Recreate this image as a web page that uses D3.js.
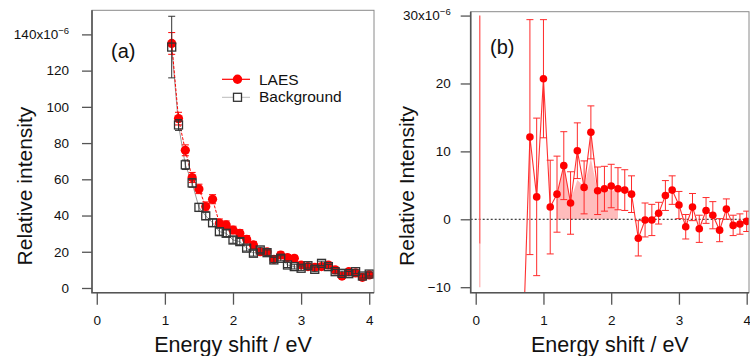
<!DOCTYPE html>
<html>
<head>
<meta charset="utf-8">
<script src="https://cdn.jsdelivr.net/npm/d3@7"></script>
<style>
  body { margin: 0; background: #fff; }
  svg { display: block; font-family: "Liberation Sans", Arial, sans-serif; }
</style>
</head>
<body>
<div id="chart"></div>
<script>
// panel (a): LAES and background spectra
const energyA = [1.1, 1.2, 1.3, 1.4, 1.5, 1.6, 1.7, 1.8, 1.9, 2.0, 2.1, 2.2, 2.3, 2.4, 2.5,
                 2.6, 2.7, 2.8, 2.9, 3.0, 3.1, 3.2, 3.3, 3.4, 3.5, 3.6, 3.7, 3.8, 3.9, 4.0];
const laesA = [135, 93.5, 76, 61, 54.7, 45, 49, 35.8, 34.8, 32, 30.2, 26.9, 23.8, 20, 20,
               15.8, 18.2, 16.8, 16.4, 12.7, 11.8, 11.4, 11.8, 12.7, 10, 6.6, 9, 8.3, 5.9, 7.2];
const laesErrA = [6, 3.5, 3, 2.8, 2.6, 2.5, 2.5, 2.3, 2.2, 2.1, 2, 2, 1.9, 1.8, 1.8,
                  1.7, 1.7, 1.6, 1.6, 1.5, 1.5, 1.5, 1.4, 1.4, 1.4, 1.3, 1.3, 1.3, 1.3, 1.3];
const bgA = [133, 90, 68, 58, 44.5, 39.8, 36, 31.1, 30.2, 26.5, 25.6, 22, 19.2, 21, 19.5,
             15.5, 16.4, 12.7, 11.8, 10.9, 12.3, 10.3, 13.6, 11.8, 9, 8.1, 7.9, 9, 6.6, 7.7];
const bgErrA = [17, 3, 2.6, 2.4, 2.2, 2, 2, 1.9, 1.8, 1.8, 1.7, 1.6, 1.6, 1.5, 1.5,
                1.4, 1.4, 1.4, 1.3, 1.3, 1.3, 1.3, 1.2, 1.2, 1.2, 1.2, 1.2, 1.1, 1.1, 1.1];
const yTicksA = [0, 20, 40, 60, 80, 100, 120, 140];

// panel (b): difference spectrum
const energyB = [0.7, 0.8, 0.9, 1.0, 1.1, 1.2, 1.3, 1.4, 1.5, 1.6, 1.7, 1.8, 1.9, 2.0, 2.1, 2.2, 2.3,
                 2.4, 2.5, 2.6, 2.7, 2.8, 2.9, 3.0, 3.1, 3.2, 3.3, 3.4, 3.5, 3.6, 3.7, 3.8, 3.9, 4.0];
const diffB = [-18, 12.1, 3.3, 20.7, 1.8, 3.7, 7.9, 2.4, 10.1, 4.7, 12.8, 4.2, 4.5, 4.9, 4.5, 4.3, 3.7,
               -2.8, -0.1, -0.1, 0.9, 3.5, 4.3, 2.1, -1.1, 1.8, -1.4, 1.3, 0.6, -1.6, 1.5, -0.9, -0.7, -0.3];
const diffErrB = [0, 17.3, 11.6, 8.7, 6.9, 5.6, 5.0, 4.6, 4.1, 3.9, 3.9, 3.5, 3.3, 3.2, 3.1, 3.0, 2.7,
                  2.6, 2.5, 2.3, 1.6, 2.2, 2.1, 2.0, 1.8, 2.0, 2.0, 1.9, 2.0, 1.7, 1.5, 1.5, 1.5, 1.5];
// shaded region under the signal
const fillEnergyB = [1.2, 1.3, 1.4, 1.5, 1.6, 1.7, 1.8, 1.9, 2.0, 2.1];
const fillTopB = [3.8, 7.8, 2.8, 5.8, 4.8, 9.0, 4.1, 4.2, 4.3, 4.1];
// lone spike near zero shift
const spikeB = { energy: 0.06, top: 30, mid: -3.6, bottom: -10 };
const yTicksB = [-10, 0, 10, 20, 30];
const xTicks = [0, 1, 2, 3, 4];

const RED = '#ff0000';
const svg = d3.select('#chart').append('svg').attr('width', 750).attr('height', 356);

function makePanel(box, xDomain, yDomain, id) {
  const x = d3.scaleLinear().domain(xDomain).range([box.left, box.right]);
  const y = d3.scaleLinear().domain(yDomain).range([box.bottom, box.top]);
  svg.append('clipPath').attr('id', id).append('rect')
    .attr('x', box.left).attr('y', box.top)
    .attr('width', box.right - box.left).attr('height', box.bottom - box.top);
  const g = svg.append('g');
  const plot = g.append('g').attr('clip-path', `url(#${id})`);
  return { x, y, g, plot, box };
}

function errorBars(p, xs, ys, es, color, cap) {
  const data = xs.map((d, i) => ({ x: d, v: ys[i], e: es[i] })).filter(d => d.e > 0);
  const eg = p.plot.append('g').attr('stroke', color).attr('stroke-width', 1);
  eg.selectAll('.bar').data(data).enter().append('line')
    .attr('x1', d => p.x(d.x)).attr('x2', d => p.x(d.x))
    .attr('y1', d => p.y(d.v - d.e)).attr('y2', d => p.y(d.v + d.e));
  [-1, 1].forEach(s => {
    eg.selectAll('.cap' + s).data(data).enter().append('line')
      .attr('x1', d => p.x(d.x) - cap).attr('x2', d => p.x(d.x) + cap)
      .attr('y1', d => p.y(d.v + s * d.e)).attr('y2', d => p.y(d.v + s * d.e));
  });
}

function drawAxes(p, yTicks, yPad, topLabel, xLabel, yLabel, yTitleX, tag, tagPos) {
  const { box } = p;
  // frame
  p.g.append('rect').attr('x', box.left).attr('y', box.top)
    .attr('width', box.right - box.left).attr('height', box.bottom - box.top)
    .attr('fill', 'none').attr('stroke', '#8a8a8a').attr('stroke-width', 1);
  p.g.append('path')
    .attr('d', `M${box.left},${box.top}V${box.bottom}H${box.right}`)
    .attr('fill', 'none').attr('stroke', '#555').attr('stroke-width', 1.6);

  const yAxis = p.g.append('g').attr('transform', `translate(${box.left},0)`)
    .call(d3.axisLeft(p.y).tickValues(yTicks).tickSize(10).tickPadding(yPad));
  yAxis.select('.domain').remove();
  yAxis.selectAll('line').attr('stroke', '#555').attr('stroke-width', 1.3);
  yAxis.selectAll('text').attr('font-size', 13.5).attr('fill', '#111')
    .attr('font-family', '"Liberation Sans", Arial, sans-serif');
  const top = yAxis.selectAll('.tick').filter(d => d === yTicks[yTicks.length - 1]).select('text');
  top.text(topLabel);
  top.append('tspan').attr('dy', '-0.55em').attr('font-size', 9.5).text('\u22126');

  const xAxis = p.g.append('g').attr('transform', `translate(0,${box.bottom})`)
    .call(d3.axisBottom(p.x).tickValues(xTicks).tickFormat(d3.format('d')).tickSize(12).tickPadding(11));
  xAxis.select('.domain').remove();
  xAxis.selectAll('line').attr('stroke', '#555').attr('stroke-width', 1.3);
  xAxis.selectAll('text').attr('font-size', 13.5).attr('fill', '#111')
    .attr('font-family', '"Liberation Sans", Arial, sans-serif');

  p.g.append('text').attr('x', (box.left + box.right) / 2).attr('y', 352)
    .attr('text-anchor', 'middle').attr('font-size', 21.5).attr('fill', '#111').text(xLabel);
  p.g.append('text').attr('transform', `translate(${yTitleX},186) rotate(-90)`)
    .attr('text-anchor', 'middle').attr('font-size', 21).attr('fill', '#111').text(yLabel);
  p.g.append('text').attr('x', tagPos[0]).attr('y', tagPos[1])
    .attr('font-size', 20).attr('fill', '#111').text(tag);
}

// ---------- panel (a)
const pa = makePanel({ left: 92, right: 374, top: 10.3, bottom: 292.7 }, [-0.07, 4.07], [-2.6, 153.3], 'clipA');

const lineA = d3.line().x((d, i) => pa.x(energyA[i])).y(d => pa.y(d));
pa.plot.append('path').datum(bgA).attr('d', lineA)
  .attr('fill', 'none').attr('stroke', '#9a9a9a').attr('stroke-width', 1);
pa.plot.append('path').datum(laesA).attr('d', lineA)
  .attr('fill', 'none').attr('stroke', RED).attr('stroke-width', 1).attr('stroke-dasharray', '3,1.5');
errorBars(pa, energyA, laesA, laesErrA, RED, 3.5);
pa.plot.selectAll('.laes').data(laesA).enter().append('circle')
  .attr('cx', (d, i) => pa.x(energyA[i])).attr('cy', d => pa.y(d))
  .attr('r', 4.6).attr('fill', RED);
errorBars(pa, energyA, bgA, bgErrA, '#333', 3.5);
pa.plot.selectAll('.bg').data(bgA).enter().append('rect')
  .attr('x', (d, i) => pa.x(energyA[i]) - 4).attr('y', d => pa.y(d) - 4)
  .attr('width', 8).attr('height', 8)
  .attr('fill', 'none').attr('stroke', '#333').attr('stroke-width', 1.3);

drawAxes(pa, yTicksA, 13, '140x10', 'Energy shift / eV', 'Relative intensity', 32, '(a)', [111, 57.5]);

// legend
const legend = pa.g.append('g').attr('font-size', 15.5).attr('fill', '#111');
legend.append('line').attr('x1', 222).attr('x2', 250).attr('y1', 79.3).attr('y2', 79.3)
  .attr('stroke', RED).attr('stroke-width', 1.2);
legend.append('circle').attr('cx', 237.5).attr('cy', 79.3).attr('r', 4.7).attr('fill', RED);
legend.append('text').attr('x', 259).attr('y', 84.5).text('LAES');
legend.append('line').attr('x1', 222).attr('x2', 250).attr('y1', 97.3).attr('y2', 97.3)
  .attr('stroke', '#bbb').attr('stroke-width', 1);
legend.append('rect').attr('x', 233.5).attr('y', 93.3).attr('width', 8).attr('height', 8)
  .attr('fill', '#fff').attr('stroke', '#333').attr('stroke-width', 1.3);
legend.append('text').attr('x', 259).attr('y', 102).text('Background');

// ---------- panel (b)
const pb = makePanel({ left: 470.7, right: 749, top: 11.7, bottom: 292.7 }, [-0.074, 4.034], [-10.81, 30.57], 'clipB');

pb.plot.append('path').datum(fillTopB)
  .attr('d', d3.area().x((d, i) => pb.x(fillEnergyB[i])).y0(pb.y(0)).y1(d => pb.y(d)))
  .attr('fill', '#ffbcbc');
pb.plot.append('line').attr('x1', pb.box.left).attr('x2', pb.box.right)
  .attr('y1', pb.y(0)).attr('y2', pb.y(0))
  .attr('stroke', '#111').attr('stroke-width', 1).attr('stroke-dasharray', '2,2');

pb.plot.append('line').attr('x1', pb.x(spikeB.energy)).attr('x2', pb.x(spikeB.energy))
  .attr('y1', pb.y(spikeB.top)).attr('y2', pb.y(spikeB.mid))
  .attr('stroke', '#ff5a5a').attr('stroke-width', 1.3);
pb.plot.append('line').attr('x1', pb.x(spikeB.energy)).attr('x2', pb.x(spikeB.energy))
  .attr('y1', pb.y(spikeB.mid)).attr('y2', pb.y(spikeB.bottom))
  .attr('stroke', '#ffb4b4').attr('stroke-width', 1.3);

const lineB = d3.line().x((d, i) => pb.x(energyB[i])).y(d => pb.y(d));
pb.plot.append('path').datum(diffB).attr('d', lineB)
  .attr('fill', 'none').attr('stroke', '#ff3030').attr('stroke-width', 1.1);
errorBars(pb, energyB, diffB, diffErrB, '#ff2a2a', 3.5);
pb.plot.selectAll('.diff').data(diffB).enter().append('circle')
  .attr('cx', (d, i) => pb.x(energyB[i])).attr('cy', d => pb.y(d))
  .attr('r', 3.8).attr('fill', RED);

drawAxes(pb, yTicksB, 10, '30x10', 'Energy shift / eV', 'Relative Intensity', 413.5, '(b)', [490, 53.5]);
</script>
</body>
</html>
